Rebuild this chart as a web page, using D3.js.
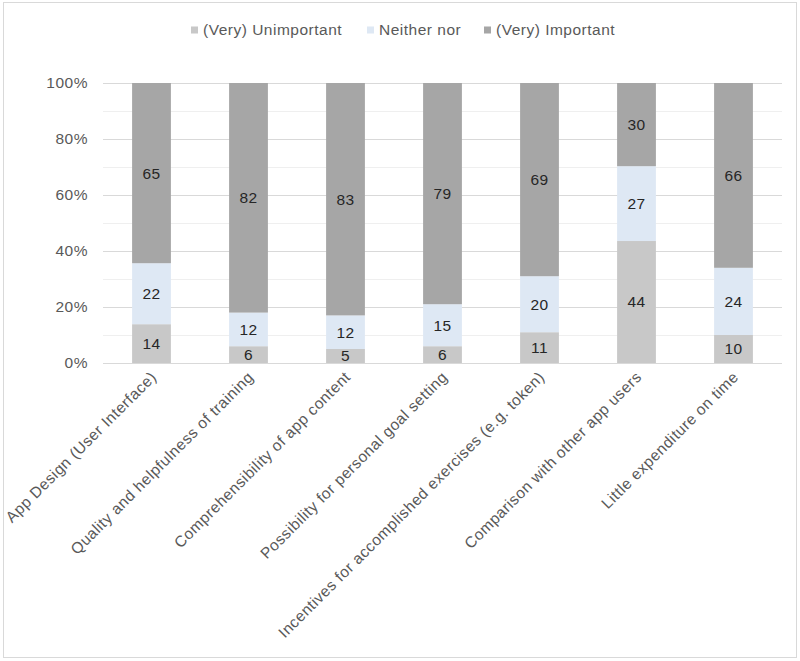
<!DOCTYPE html>
<html>
<head>
<meta charset="utf-8">
<script src="https://cdn.jsdelivr.net/npm/d3@7/dist/d3.min.js"></script>
<style>
  body { margin: 0; background: #fff; }
  svg { display: block; font-family: "Liberation Sans", Arial, sans-serif; letter-spacing: 0.5px; }
</style>
</head>
<body>
<div id="chart"></div>
<script>
const categories = [
  'App Design (User Interface)',
  'Quality and helpfulness of training',
  'Comprehensibility of app content',
  'Possibility for personal goal setting',
  'Incentives for accomplished exercises (e.g. token)',
  'Comparison with other app users',
  'Little expenditure on time'
];
const seriesNames = ['(Very) Unimportant', 'Neither nor', '(Very) Important'];
const unimportant = [14, 6, 5, 6, 11, 44, 10];
const neither = [22, 12, 12, 15, 20, 27, 24];
const important = [65, 82, 83, 79, 69, 30, 66];
const yTicks = [0, 0.2, 0.4, 0.6, 0.8, 1];
const yGrid = [0.1, 0.3, 0.5, 0.7, 0.9];

const colors = ['#c8c8c8', '#dee8f4', '#a6a6a6'];
const width = 800;
const height = 661;
const margin = { top: 83, right: 18, bottom: 298, left: 103 };

const rows = categories.map((name, i) => ({
  name,
  [seriesNames[0]]: unimportant[i],
  [seriesNames[1]]: neither[i],
  [seriesNames[2]]: important[i]
}));

// 100% stacked, like the original
const stacked = d3.stack()
  .keys(seriesNames)
  .offset(d3.stackOffsetExpand)(rows);

const svg = d3.select('#chart')
  .append('svg')
  .attr('width', width)
  .attr('height', height);

svg.append('rect')
  .attr('x', 3.5).attr('y', 2.5)
  .attr('width', 793).attr('height', 655)
  .attr('fill', '#fff')
  .attr('stroke', '#d9d9d9');

const x = d3.scaleBand()
  .domain(categories)
  .range([margin.left, width - margin.right])
  .paddingInner(0.6)
  .paddingOuter(0.3);

const y = d3.scaleLinear()
  .domain([0, 1])
  .range([height - margin.bottom, margin.top]);

svg.append('g')
  .selectAll('line')
  .data(yGrid)
  .join('line')
  .attr('x1', margin.left).attr('x2', width - margin.right)
  .attr('y1', d => Math.round(y(d)) + 0.5).attr('y2', d => Math.round(y(d)) + 0.5)
  .attr('stroke', '#efefef');

svg.append('g')
  .selectAll('line')
  .data(yTicks)
  .join('line')
  .attr('x1', margin.left).attr('x2', width - margin.right)
  .attr('y1', d => Math.round(y(d)) + 0.5).attr('y2', d => Math.round(y(d)) + 0.5)
  .attr('stroke', '#d9d9d9');

const yAxis = svg.append('g')
  .attr('transform', `translate(${margin.left - 15}, 0)`)
  .call(d3.axisLeft(y).tickValues(yTicks).tickFormat(d3.format('.0%')).tickSize(0).tickPadding(0));
yAxis.select('.domain').remove();
yAxis.selectAll('text')
  .attr('fill', '#595959')
  .style('font-size', '15.5px');

const layers = svg.append('g')
  .selectAll('g')
  .data(stacked)
  .join('g')
  .attr('fill', (d, i) => colors[i]);

layers.selectAll('rect')
  .data(d => d.map(v => ({ v, key: d.key })))
  .join('rect')
  .attr('x', d => x(d.v.data.name))
  .attr('y', d => y(d.v[1]))
  .attr('width', x.bandwidth())
  .attr('height', d => y(d.v[0]) - y(d.v[1]));

layers.selectAll('text')
  .data(d => d.map(v => ({ v, key: d.key })))
  .join('text')
  .attr('x', d => x(d.v.data.name) + x.bandwidth() / 2)
  .attr('y', d => (y(d.v[0]) + y(d.v[1])) / 2)
  .attr('dy', '0.35em')
  .attr('text-anchor', 'middle')
  .attr('fill', '#262626')
  .style('font-size', '15.5px')
  .text(d => d.v.data[d.key]);

const xAxis = svg.append('g')
  .attr('transform', `translate(0, ${height - margin.bottom})`)
  .call(d3.axisBottom(x).tickSize(0).tickPadding(0));
xAxis.select('.domain').remove();
xAxis.selectAll('text')
  .attr('fill', '#595959')
  .style('font-size', '15.5px')
  .attr('text-anchor', 'end')
  .attr('dy', '0')
  .attr('transform', 'translate(6, 15) rotate(-45)');

const legendX = [191, 367, 484];
const legend = svg.append('g')
  .selectAll('g')
  .data(seriesNames)
  .join('g')
  .attr('transform', (d, i) => `translate(${legendX[i]}, 30)`);
legend.append('rect')
  .attr('x', 0).attr('y', -3.5)
  .attr('width', 7).attr('height', 7)
  .attr('fill', (d, i) => colors[i]);
legend.append('text')
  .attr('x', 12)
  .attr('dy', '0.35em')
  .attr('fill', '#595959')
  .style('font-size', '15.5px')
  .text(d => d);
</script>
</body>
</html>
